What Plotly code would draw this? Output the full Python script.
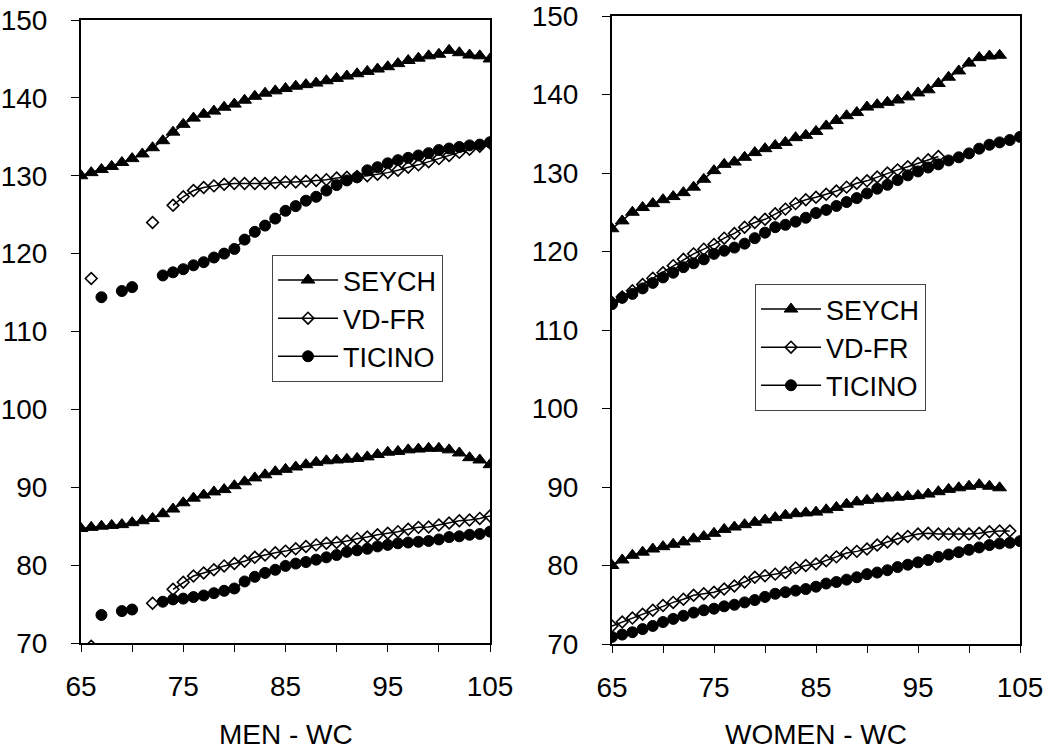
import plotly.graph_objects as go

# ---------------- data ----------------
wc = list(range(65, 106))          # waist circumference 65..105
wc_w_seych = list(range(65, 104))  # women SEYCH 65..103
wc_w_vdfr_up = list(range(65, 98)) # women VD-FR upper 65..97
wc_w_vdfr_lo = list(range(65, 105))# women VD-FR lower 65..104

series_names = ["SEYCH", "VD-FR", "TICINO"]

men_seych_up = [130.0, 130.4, 130.8, 131.2, 131.7, 132.2, 132.8, 133.6, 134.5, 135.6,
                136.6, 137.4, 137.9, 138.3, 138.8, 139.2, 139.7, 140.2, 140.6, 140.9,
                141.2, 141.5, 141.7, 141.9, 142.2, 142.5, 142.8, 143.1, 143.4, 143.7,
                144.0, 144.4, 144.8, 145.1, 145.4, 145.6, 146.1, 145.8, 145.5, 145.4, 145.0]
men_seych_lo = [84.7, 84.85, 85.0, 85.1, 85.2, 85.45, 85.7, 86.0, 86.6, 87.2,
                88.0, 88.6, 89.0, 89.4, 89.7, 90.2, 90.7, 91.2, 91.6, 92.0,
                92.3, 92.6, 92.9, 93.2, 93.4, 93.5, 93.6, 93.7, 93.9, 94.2,
                94.5, 94.6, 94.8, 94.9, 95.0, 95.0, 94.8, 94.4, 93.8, 93.5, 92.9]
men_vdfr_up = [None, 116.8, None, None, None, None, None, 124.0, None, 126.2,
               127.3, 128.1, 128.5, 128.7, 128.9, 129.0, 129.0, 129.0, 129.0, 129.1,
               129.2, 129.2, 129.3, 129.4, 129.5, 129.7, 129.8, 129.9, 130.0, 130.2,
               130.4, 130.7, 131.1, 131.4, 131.8, 132.2, 132.6, 133.0, 133.4, 133.8, 134.2]
men_vdfr_lo = [None, 69.6, None, None, None, None, None, 75.1, None, 76.9,
               77.8, 78.6, 79.0, 79.4, 79.9, 80.2, 80.5, 81.0, 81.3, 81.6,
               81.8, 82.1, 82.4, 82.6, 82.8, 82.9, 83.1, 83.4, 83.6, 83.9,
               84.1, 84.3, 84.6, 84.85, 84.9, 85.15, 85.4, 85.7, 85.8, 86.0, 86.3]
men_ticino_up = [None, None, 114.4, None, 115.2, 115.7, None, None, 117.2, 117.6,
                 118.0, 118.5, 118.9, 119.5, 120.0, 120.6, 121.8, 122.8, 123.6, 124.5,
                 125.5, 126.1, 126.8, 127.3, 128.1, 128.8, 129.4, 129.8, 130.7, 131.1,
                 131.6, 132.0, 132.3, 132.6, 132.9, 133.3, 133.5, 133.7, 133.9, 134.0, 134.3]
men_ticino_lo = [None, None, 73.6, None, 74.1, 74.3, None, None, 75.3, 75.6,
                 75.7, 75.9, 76.1, 76.4, 76.7, 77.0, 77.9, 78.5, 79.0, 79.4,
                 79.9, 80.2, 80.4, 80.7, 81.0, 81.3, 81.7, 81.9, 82.1, 82.4,
                 82.6, 82.8, 82.9, 83.0, 83.1, 83.3, 83.6, 83.7, 83.9, 84.0, 84.3]

women_seych_up = [122.9, 123.9, 125.0, 125.6, 126.1, 126.6, 127.0, 127.5, 128.2, 129.2,
                  130.3, 131.1, 131.4, 132.0, 132.6, 133.1, 133.5, 133.9, 134.5, 134.8,
                  135.3, 136.0, 136.7, 137.3, 137.7, 138.4, 138.7, 139.0, 139.3, 139.7,
                  140.2, 140.6, 141.4, 142.2, 143.0, 144.0, 144.7, 144.9, 145.0]
women_seych_lo = [80.0, 80.7, 81.3, 81.7, 82.1, 82.4, 82.7, 83.0, 83.4, 83.7,
                  84.1, 84.6, 84.9, 85.2, 85.5, 85.8, 86.1, 86.4, 86.6, 86.7,
                  86.8, 87.1, 87.4, 87.8, 88.1, 88.3, 88.5, 88.6, 88.7, 88.8,
                  88.9, 89.1, 89.4, 89.7, 89.9, 90.1, 90.3, 90.1, 89.9]
women_vdfr_up = [113.5, 114.2, 115.0, 115.8, 116.6, 117.3, 118.2, 119.0, 119.7, 120.3,
                 120.9, 121.7, 122.3, 123.1, 123.7, 124.1, 124.8, 125.4, 126.1, 126.6,
                 126.9, 127.3, 127.7, 128.2, 128.7, 129.0, 129.5, 130.0, 130.4, 130.8,
                 131.2, 131.7, 132.1]
women_vdfr_lo = [72.3, 72.8, 73.3, 73.8, 74.3, 74.9, 75.3, 75.7, 76.2, 76.4,
                 76.6, 77.0, 77.4, 77.9, 78.5, 78.7, 78.9, 79.1, 79.7, 80.0,
                 80.2, 80.6, 81.1, 81.6, 81.8, 82.1, 82.6, 83.0, 83.4, 83.7,
                 84.0, 84.1, 84.0, 84.0, 84.0, 84.0, 84.1, 84.3, 84.4, 84.4]
women_ticino_up = [113.3, 114.1, 114.6, 115.3, 116.0, 116.7, 117.3, 118.0, 118.5, 119.0,
                   119.7, 120.1, 120.5, 121.0, 121.7, 122.4, 123.1, 123.4, 123.8, 124.3,
                   124.9, 125.3, 125.8, 126.3, 126.8, 127.4, 128.0, 128.5, 129.1, 129.7,
                   130.2, 130.7, 131.1, 131.6, 132.0, 132.5, 133.1, 133.6, 133.9, 134.2, 134.6]
women_ticino_lo = [70.9, 71.2, 71.5, 71.9, 72.3, 72.8, 73.2, 73.6, 74.0, 74.3,
                   74.5, 74.8, 75.0, 75.3, 75.6, 76.0, 76.4, 76.6, 76.8, 77.0,
                   77.3, 77.7, 77.9, 78.2, 78.5, 78.9, 79.1, 79.4, 79.8, 80.1,
                   80.4, 80.7, 81.1, 81.4, 81.7, 82.0, 82.3, 82.6, 82.8, 82.9, 83.1]

x_tickvals = [65, 70, 75, 80, 85, 90, 95, 100, 105]
x_ticktext = ["65", "", "75", "", "85", "", "95", "", "105"]
y_tickvals = [70, 80, 90, 100, 110, 120, 130, 140, 150]
panel_titles = ["MEN - WC", "WOMEN - WC"]

# ---------------- layout helpers ----------------
FONT = "Arial, Liberation Sans, sans-serif"
W, H = 1048, 754

def px_x(p):
    return p / W

def px_y(p):
    return 1 - p / H

styles = {
    "SEYCH": dict(symbol="triangle-up", size=12, color="black", line=dict(color="black", width=1)),
    "VD-FR": dict(symbol="diamond-open", size=9, color="black", line=dict(color="black", width=1.6)),
    "TICINO": dict(symbol="circle", size=11, color="black", line=dict(color="black", width=1)),
}

fig = go.Figure()

def add(xs, ys, name, xa, ya, legend, show):
    fig.add_trace(go.Scatter(
        x=xs, y=ys, mode="lines+markers", name=name,
        line=dict(color="black", width=1.5),
        marker=styles[name], connectgaps=False,
        xaxis=xa, yaxis=ya, legend=legend, showlegend=show,
    ))

# men panel
add(wc, men_seych_up, "SEYCH", "x", "y", "legend", True)
add(wc, men_vdfr_up, "VD-FR", "x", "y", "legend", True)
add(wc, men_ticino_up, "TICINO", "x", "y", "legend", True)
add(wc, men_seych_lo, "SEYCH", "x", "y", "legend", False)
add(wc, men_vdfr_lo, "VD-FR", "x", "y", "legend", False)
add(wc, men_ticino_lo, "TICINO", "x", "y", "legend", False)
# women panel
add(wc_w_seych, women_seych_up, "SEYCH", "x2", "y2", "legend2", True)
add(wc_w_vdfr_up, women_vdfr_up, "VD-FR", "x2", "y2", "legend2", True)
add(wc, women_ticino_up, "TICINO", "x2", "y2", "legend2", True)
add(wc_w_seych, women_seych_lo, "SEYCH", "x2", "y2", "legend2", False)
add(wc_w_vdfr_lo, women_vdfr_lo, "VD-FR", "x2", "y2", "legend2", False)
add(wc, women_ticino_lo, "TICINO", "x2", "y2", "legend2", False)

tickfont = dict(family=FONT, size=28, color="black")

def xaxis(domain, anchor):
    return dict(domain=domain, anchor=anchor, range=[65, 105], tickmode="array",
                tickvals=x_tickvals, ticktext=x_ticktext, ticks="outside", ticklen=7,
                tickwidth=1.2, tickcolor="black", showline=True, linewidth=2,
                linecolor="black", mirror=True, showgrid=False, zeroline=False,
                tickfont=tickfont, ticklabelstandoff=10, automargin=False,
                ticklabeloverflow="allow")

def yaxis(domain, anchor):
    return dict(domain=domain, anchor=anchor, range=[70, 150], tickmode="array",
                tickvals=y_tickvals, ticks="outside", ticklen=8, tickwidth=1.2,
                tickcolor="black", showline=True, linewidth=2, linecolor="black",
                mirror=True, showgrid=False, zeroline=False, tickfont=tickfont,
                ticklabelstandoff=18, automargin=False, ticklabeloverflow="allow")

def inner_x(overlay, anchor, domain):
    return dict(overlaying=overlay, anchor=anchor, domain=domain, range=[65, 105],
                tickmode="array", tickvals=x_tickvals, ticks="inside", ticklen=10,
                tickwidth=1.2, tickcolor="black", showticklabels=False,
                showline=False, showgrid=False, zeroline=False, side="bottom",
                automargin=False)

def inner_y(overlay, anchor, domain):
    return dict(overlaying=overlay, anchor=anchor, domain=domain, range=[70, 150],
                tickmode="array", tickvals=y_tickvals, ticks="inside", ticklen=9,
                tickwidth=1.2, tickcolor="black", showticklabels=False,
                showline=False, showgrid=False, zeroline=False, side="left",
                automargin=False)

xd1 = [px_x(81), px_x(490)]
xd2 = [px_x(612), px_x(1020)]
yd1 = [px_y(643), px_y(20)]
yd2 = [px_y(644), px_y(16)]

legend_common = dict(font=dict(family=FONT, size=27, color="black"),
                     bgcolor="white", bordercolor="#444", borderwidth=1,
                     xanchor="left", yanchor="top", tracegroupgap=0,
                     itemwidth=60)

fig.update_layout(
    width=W, height=H,
    margin=dict(l=0, r=0, t=0, b=0, autoexpand=False),
    paper_bgcolor="white", plot_bgcolor="white",
    font=dict(family=FONT, color="black"),
    xaxis=xaxis(xd1, "y"), yaxis=yaxis(yd1, "x"),
    xaxis2=xaxis(xd2, "y2"), yaxis2=yaxis(yd2, "x2"),
    xaxis3=inner_x("x", "y", xd1), yaxis3=inner_y("y", "x", yd1),
    xaxis4=inner_x("x2", "y2", xd2), yaxis4=inner_y("y2", "x2", yd2),
    legend=dict(x=px_x(272), y=px_y(255), **legend_common),
    legend2=dict(x=px_x(755), y=px_y(284), **legend_common),
)

for i, title in enumerate(panel_titles):
    fig.add_annotation(text=title, xref="x domain" if i == 0 else "x2 domain",
                       yref="paper", x=0.5, y=px_y(734), xanchor="center",
                       yanchor="middle", showarrow=False,
                       font=dict(family=FONT, size=28, color="black"))

fig.write_html(
    "out.html",
    config={"displayModeBar": False},
    post_script="document.body.style.margin='0';document.body.style.overflow='hidden';",
)
